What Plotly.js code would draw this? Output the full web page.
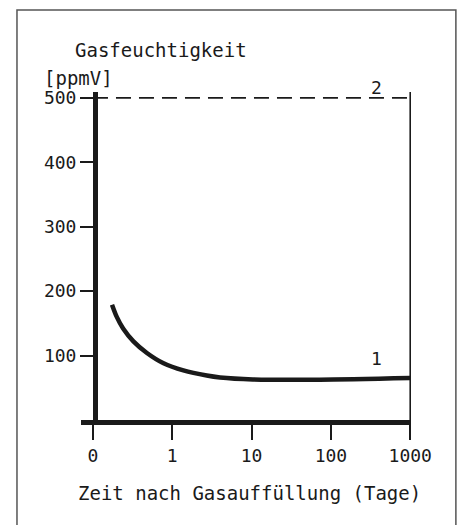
<!DOCTYPE html>
<html>
<head>
<meta charset="utf-8">
<script src="https://cdn.plot.ly/plotly-3.0.1.min.js"></script>
<style>
  html, body { margin: 0; padding: 0; background: #fff; }
  #chart { width: 458px; height: 525px; }
</style>
</head>
<body>
<div id="chart"></div>
<script>
// ---- data ----
const xTickDays   = [0, 1, 10, 100, 1000];
const xTickLabels = ["0", "1", "10", "100", "1000"];
const yTickVals   = [100, 200, 300, 400, 500];
const yTickLabels = ["100", "200", "300", "400", "500"];

// series 1: gas humidity after filling (days, ppmV)
const s1Days = [0.24, 0.30, 0.38, 0.51, 0.68, 0.89, 1.38, 2.72, 4.0, 10.4, 72, 1000];
const s1Ppm  = [179, 160, 142, 122, 104, 88, 77, 69, 66, 63, 62.5, 65];

// series 2: limit value (days, ppmV)
const s2Days = [0, 1000];
const s2Ppm  = [500, 500];

const seriesLabels = ["1", "2"];
const yTitleLines = ["Gasfeuchtigkeit", "[ppmV]"];
const xTitle = "Zeit nach Gasauffüllung (Tage)";

// the drawn axis: 0..1 linear, then one decade per unit
function toPos(d) { return d <= 1 ? d : 1 + Math.log10(d); }

const FONT = "DejaVu Sans Mono, Liberation Mono, monospace";
const INK = "#1a1a1a";

const traces = [
  {
    x: s2Days.map(toPos), y: s2Ppm, mode: "lines",
    line: { color: INK, width: 1.8, dash: "15px,8px" },
    hoverinfo: "skip", showlegend: false, cliponaxis: false
  },
  {
    x: s1Days.map(toPos), y: s1Ppm, mode: "lines",
    line: { color: INK, width: 4.5, shape: "spline", smoothing: 0.8 },
    hoverinfo: "skip", showlegend: false
  }
];

const xEnd = toPos(xTickDays[xTickDays.length - 1]);

const layout = {
  width: 458, height: 525,
  paper_bgcolor: "#ffffff", plot_bgcolor: "#ffffff",
  margin: { l: 81, r: 47, t: 92, b: 105, pad: 0 },
  showlegend: false,
  font: { family: FONT, color: INK, size: 18 },
  xaxis: {
    range: [-0.151, 4.01],
    tickvals: xTickDays.map(toPos), ticktext: xTickLabels,
    ticks: "outside", ticklen: 15, tickwidth: 2, tickcolor: INK,
    showline: true, linewidth: 5, linecolor: INK,
    showgrid: false, zeroline: false,
    tickfont: { family: FONT, size: 18, color: INK },
    fixedrange: true
  },
  yaxis: {
    range: [0, 509],
    anchor: "free", position: 0.0424,
    tickvals: yTickVals, ticktext: yTickLabels,
    ticks: "outside", ticklen: 13, tickwidth: 2, tickcolor: INK,
    showline: true, linewidth: 5, linecolor: INK,
    showgrid: false, zeroline: false,
    tickfont: { family: FONT, size: 18, color: INK },
    fixedrange: true
  },
  shapes: [
    { type: "line", xref: "x", yref: "paper", x0: xEnd, x1: xEnd, y0: 0, y1: 1,
      line: { color: INK, width: 1.6 } },
    { type: "rect", xref: "paper", yref: "paper",
      x0: -0.194, x1: 1.136, y0: -0.36, y1: 1.25,
      line: { color: "#555", width: 1.5 } }
  ],
  annotations: [
    { xref: "paper", yref: "paper", x: -0.024, y: 1.128, xanchor: "left", yanchor: "middle",
      text: yTitleLines[0], showarrow: false, font: { family: FONT, size: 19, color: INK } },
    { xref: "paper", yref: "paper", x: -0.118, y: 1.043, xanchor: "left", yanchor: "middle",
      text: yTitleLines[1], showarrow: false, font: { family: FONT, size: 19, color: INK } },
    { xref: "paper", yref: "paper", x: 0.512, y: -0.2226, xanchor: "center", yanchor: "middle",
      text: xTitle, showarrow: false, font: { family: FONT, size: 19, color: INK } },
    { xref: "x", yref: "y", x: 3.58, y: 95, xanchor: "center", yanchor: "middle",
      text: seriesLabels[0], showarrow: false, font: { family: FONT, size: 18, color: INK } },
    { xref: "x", yref: "y", x: 3.58, y: 500, xanchor: "center", yanchor: "bottom", yshift: -2,
      text: seriesLabels[1], showarrow: false, font: { family: FONT, size: 18, color: INK } }
  ]
};

Plotly.newPlot("chart", traces, layout, { staticPlot: true, displayModeBar: false });
</script>
</body>
</html>
